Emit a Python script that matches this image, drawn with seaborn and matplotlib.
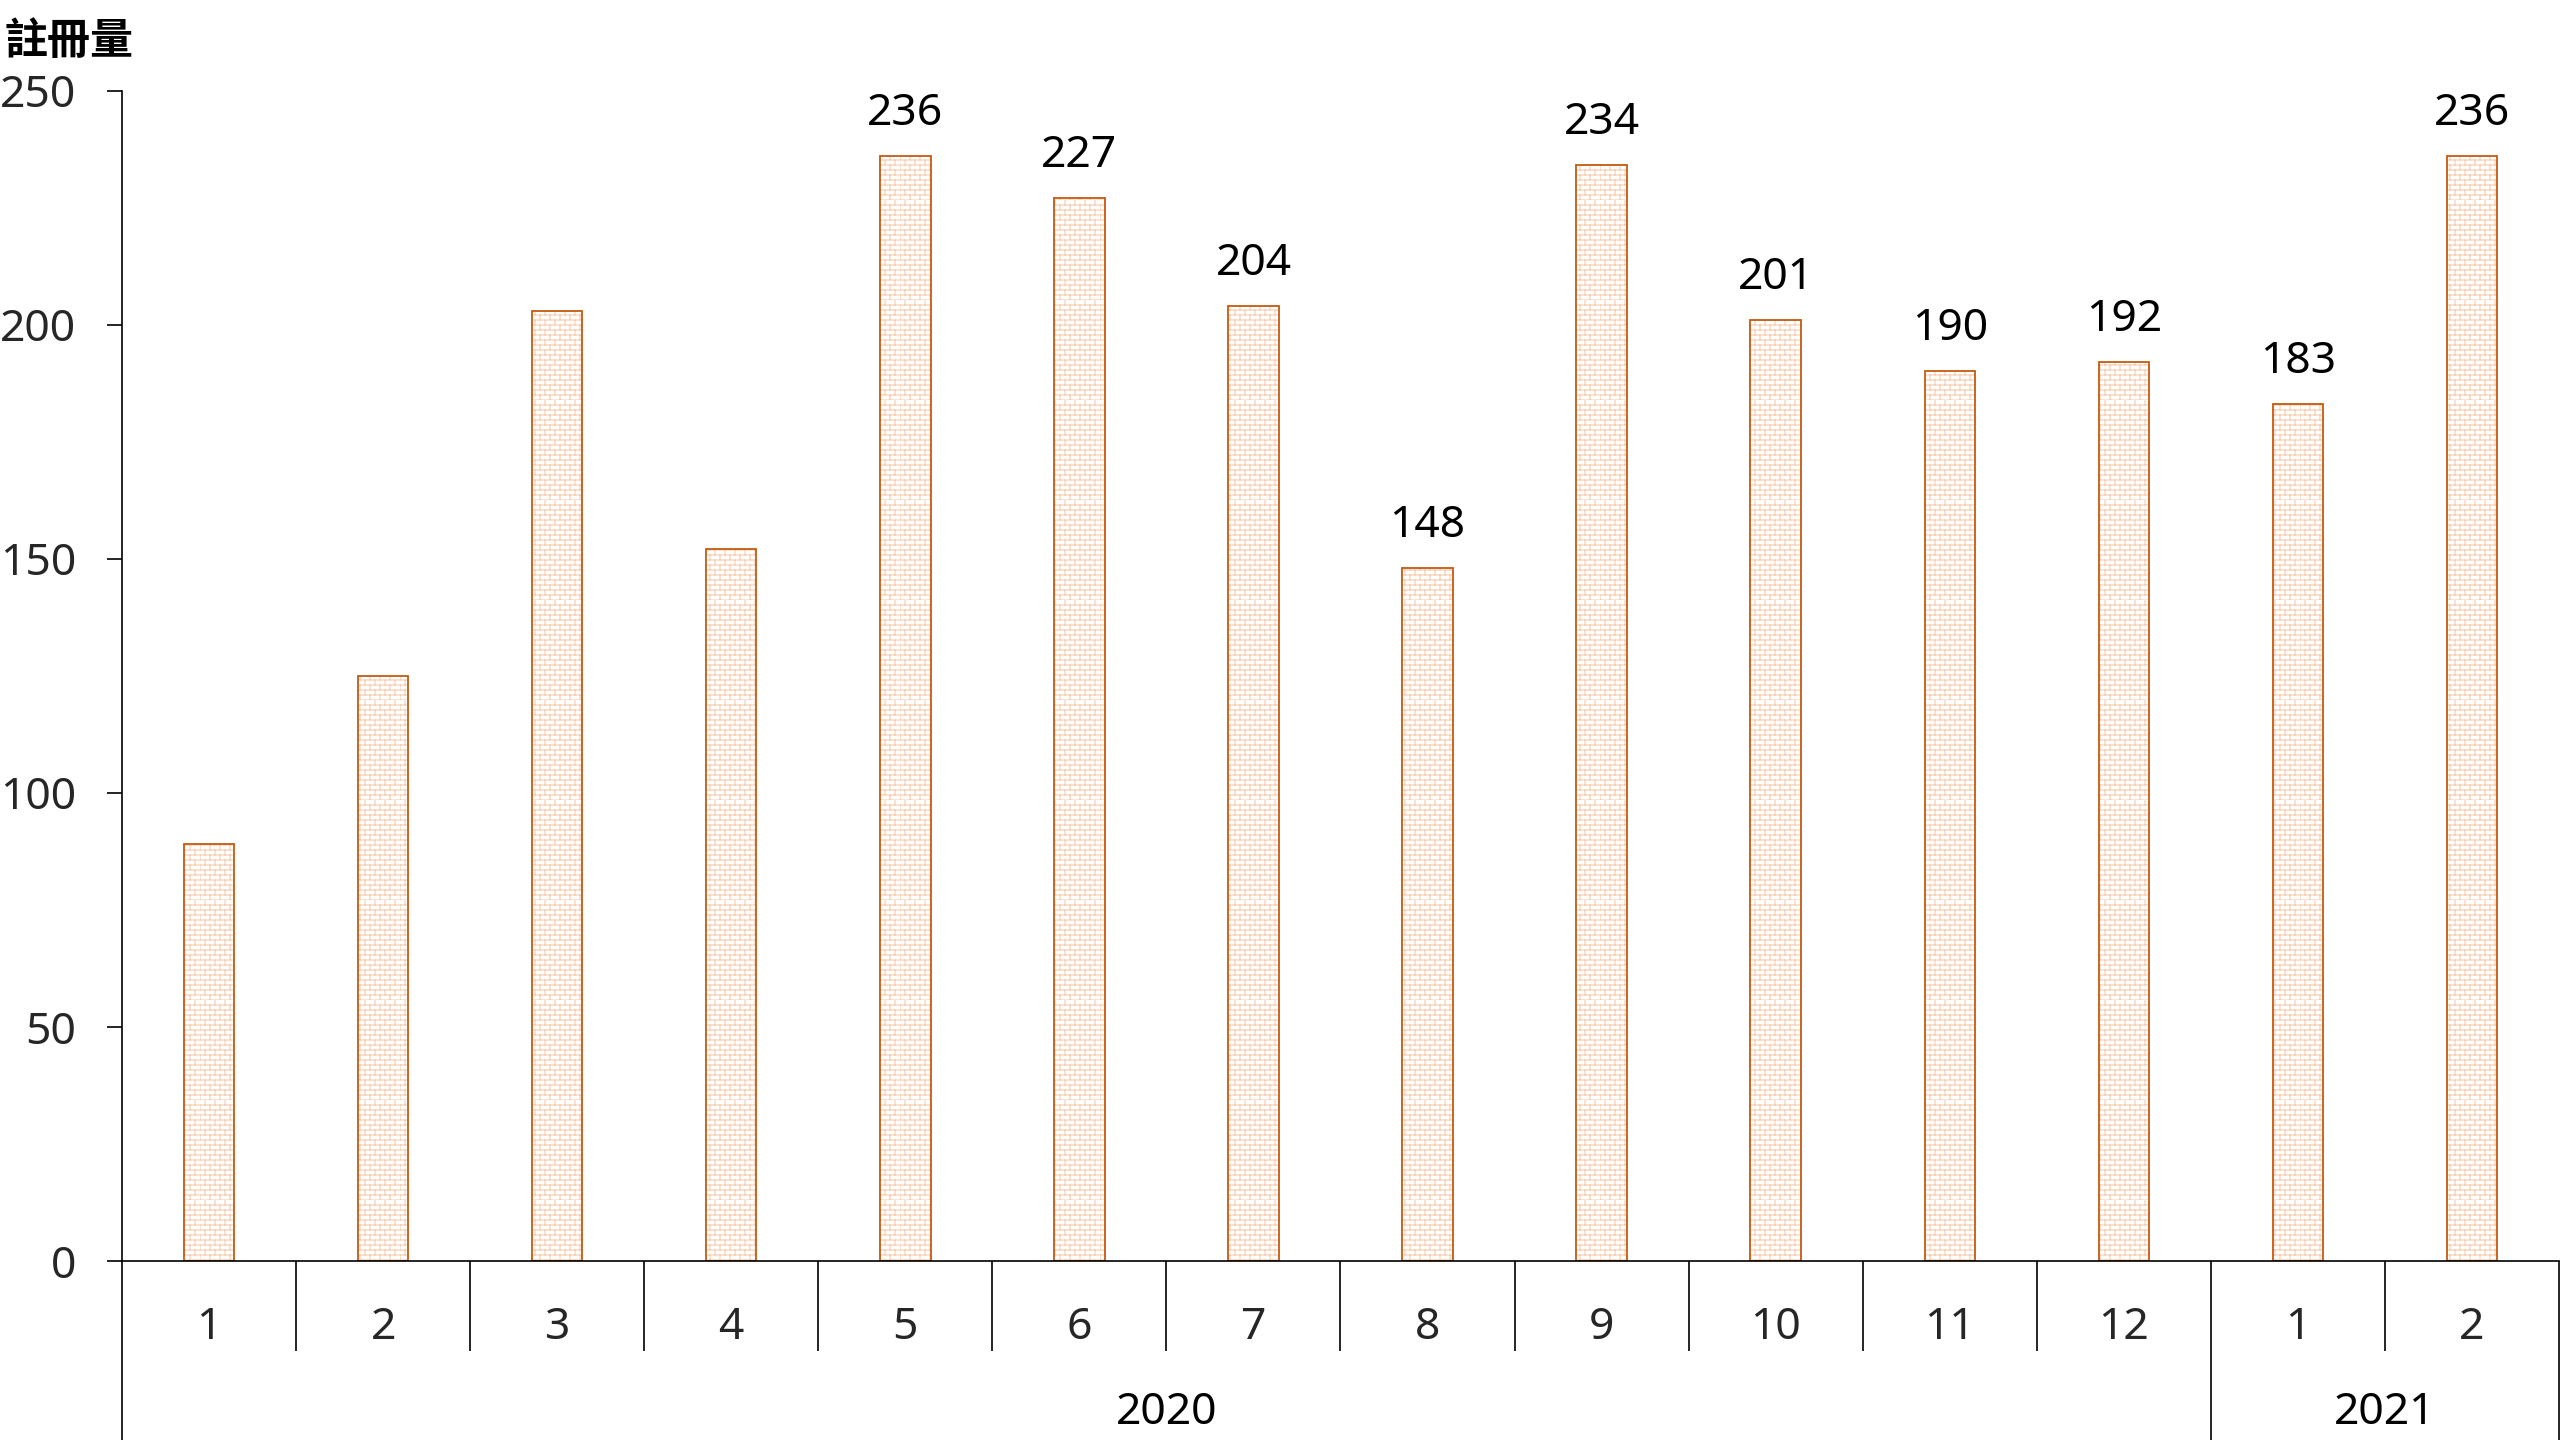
import numpy as np
import pandas as pd
import matplotlib
matplotlib.use("Agg")
import matplotlib.pyplot as plt
import matplotlib.hatch as mhatch
from matplotlib.path import Path
from matplotlib.colors import to_rgba
import matplotlib.transforms as mtransforms
import seaborn as sns

# ---------------- data ----------------
years = ["2020"] * 12 + ["2021"] * 2
months = ["1", "2", "3", "4", "5", "6", "7", "8", "9", "10", "11", "12", "1", "2"]
values = [89, 125, 203, 152, 236, 227, 204, 148, 234, 201, 190, 192, 183, 236]
show_label = [False, False, False, False] + [True] * 10
y_title = "註冊量"
y_ticks = [0, 50, 100, 150, 200, 250]

keys = [f"{y}-{m}" for y, m in zip(years, months)]
df = pd.DataFrame({"key": keys, "value": values})

# ---------------- brick hatch ----------------
class BrickHatch(mhatch.HatchPatternBase):
    def __init__(self, hatch, density):
        self.rows = 20
        self.cols = 10
        if "+" in hatch:
            self.num_vertices = 2 * self.rows + 2 * self.rows * self.cols
        else:
            self.num_vertices = 0

    def set_vertices_and_codes(self, vertices, codes):
        segs = []
        for r in range(self.rows):
            y0 = r / self.rows
            y1 = (r + 1) / self.rows
            segs.append(((0.0, y0), (1.0, y0)))
            off = 0.5 / self.cols if r % 2 else 0.0
            for c in range(self.cols):
                x = c / self.cols + off
                segs.append(((x, y0), (x, y1)))
        arr = np.array(segs, dtype=float).reshape(-1, 2)
        vertices[:] = arr
        codes[0::2] = Path.MOVETO
        codes[1::2] = Path.LINETO

mhatch._hatch_types[:] = [BrickHatch]

# ---------------- style ----------------
sns.set_style("white")
FONT = ["Noto Sans", "Noto Sans CJK TC", "DejaVu Sans"]
CJK = ["Noto Sans CJK TC", "DejaVu Sans"]
plt.rcParams["font.family"] = FONT
plt.rcParams["hatch.linewidth"] = 0.75

EDGE = "#C55A11"
BRICK = "#F8CBAD"
FS = 32

fig = plt.figure(figsize=(25.6, 14.4), dpi=100)
W, H = 2560, 1440
left, right = 122, 2559
zero_y, top_y = 1261.3, 90.5
ax = fig.add_axes([left / W, (H - zero_y) / H, (right - left) / W, (zero_y - top_y) / H])

sns.barplot(data=df, x="key", y="value", ax=ax, width=0.29,
            color="white", edgecolor=EDGE, linewidth=1.3, saturation=1)

for p in ax.patches:
    p.set_facecolor("white")
    p.set_hatch("+")
    p._hatch_color = to_rgba(BRICK)

ax.set_xlim(-0.5, len(keys) - 0.5)
ax.set_ylim(0, 250)
ax.set_xlabel("")
ax.set_ylabel("")

for s in ["top", "right"]:
    ax.spines[s].set_visible(False)
for s in ["left", "bottom"]:
    ax.spines[s].set_color("black")
    ax.spines[s].set_linewidth(1.2)

ax.set_yticks(y_ticks)
ax.set_yticklabels([str(t) for t in y_ticks])
ax.tick_params(axis="y", direction="out", length=10.8, width=1.2, color="black",
               pad=22, labelsize=FS, left=True)
ax.set_xticks(range(len(keys)))
ax.set_xticklabels(months)
ax.tick_params(axis="x", length=0, pad=32, labelsize=FS)

# value labels
for i, (v, show) in enumerate(zip(values, show_label)):
    if show:
        ax.annotate(str(v), xy=(i, v), xytext=(0, 22.5), textcoords="offset points",
                    ha="center", va="baseline", fontsize=FS, color="black")

# group separators below axis
trans = mtransforms.blended_transform_factory(ax.transData, ax.transAxes)
ax_h = zero_y - top_y
short = -90 / ax_h
full = -(H - zero_y + 5) / ax_h
n = len(keys)
for i in range(n - 1):
    b = i + 0.5
    y_end = full if years[i] != years[i + 1] else short
    ax.plot([b, b], [0, y_end], transform=trans, color="black", lw=1.2,
            clip_on=False, solid_capstyle="butt")
for b in [-0.5, n - 0.5]:
    ax.plot([b, b], [0, full], transform=trans, color="black", lw=1.2,
            clip_on=False, solid_capstyle="butt")

# year labels
year_y = -(1413 - zero_y) / ax_h
uniq = []
for y in years:
    if y not in uniq:
        uniq.append(y)
for y in uniq:
    idx = [i for i, yy in enumerate(years) if yy == y]
    xc = (idx[0] + idx[-1]) / 2
    ax.text(xc, year_y, y, transform=trans, ha="center", va="center",
            fontsize=FS, color="black")

fig.text(5 / W, 1 - 41.5 / H, y_title, ha="left", va="center",
         fontsize=31, fontweight="bold", color="black", family=CJK)

fig.savefig("out.png", dpi=100, facecolor="white")
